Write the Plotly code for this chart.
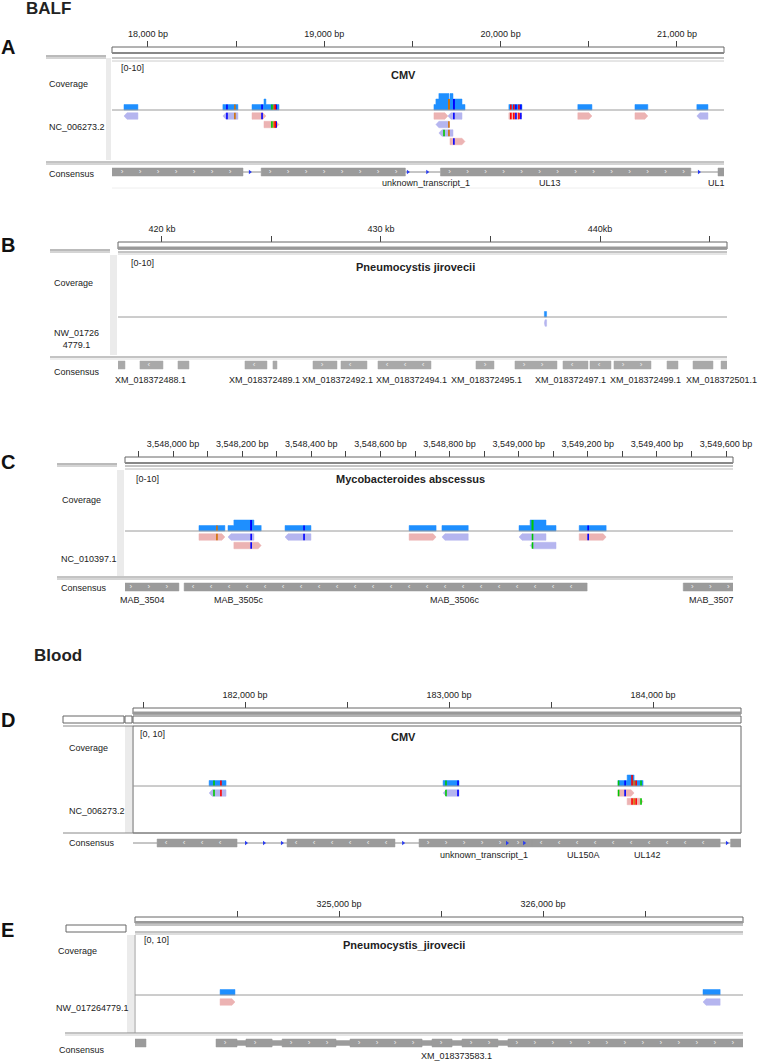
import plotly.graph_objects as go

W, H = 761, 1062
FONT = "Arial, 'Liberation Sans', sans-serif"
COV_COL = "#1e8fff"
FWD_COL = "#ecb3b3"
REV_COL = "#b5b5ef"
GENE_COL = "#9b9b9b"
INTRON_COL = "#8c8c8c"
ARROW_COL = "#2a3cf0"
BASE_COL = {"A": "#00c800", "C": "#0000ff", "G": "#d17105", "T": "#ff0000"}

# ======================= DATA =======================
# ---- Panel A : BALF, CMV (NC_006273.2) ----
A_view = [17796, 21267]
A_ticks = [18000, 18500, 19000, 19500, 20000, 20500, 21000]
A_tick_text = ["18,000 bp", "", "19,000 bp", "", "20,000 bp", "", "21,000 bp"]
A_read_start = [17864, 18425, 18590, 19622, 19701, 20047, 20438, 20762, 21113, 18658, 19633, 19650, 19713]
A_read_end = [17943, 18510, 18669, 19701, 19781, 20121, 20518, 20835, 21176, 18743, 19707, 19730, 19798]
A_read_row = [0, 0, 0, 0, 0, 0, 0, 0, 0, 1, 1, 2, 3]
A_read_strand = ["-", "-", "+", "+", "-", "+", "+", "+", "-", "+", "-", "-", "+"]
A_mm_pos = [18448, 18493, 18647, 18703, 18715, 18722, 18727, 19735, 19707, 19707, 19679, 19735,
            20058, 20075, 20087, 20104, 20115]
A_mm_row = [0, 0, 0, 1, 1, 1, 1, 0, 1, 2, 2, 3, 0, 0, 0, 0, 0]
A_mm_base = ["C", "G", "C", "A", "G", "T", "C", "C", "G", "G", "A", "C", "T", "T", "C", "T", "C"]
A_gene_start = [17700, 18642, 19659, 21233]
A_gene_end = [18539, 19460, 21079, 21400]
A_gene_strand = ["+", "+", "+", ""]
A_intron_start = [18539, 19460, 21079]
A_intron_end = [18642, 19659, 21233]
A_intron_arrow = [18578, 19474, 19584, 21125]
A_gene_name = ["unknown_transcript_1", "UL13", "UL1"]
A_gene_label_pos = [19576, 20280, 21170]
A_gene_label_anchor = ["center", "center", "left"]

# ---- Panel B : BALF, Pneumocystis jirovecii (NW_017264779.1) ----
B_view = [417993, 445798]
B_ticks = [420000, 425000, 430000, 435000, 440000, 445000]
B_tick_text = ["420 kb", "", "430 kb", "", "440kb", ""]
B_read_start = [437460]
B_read_end = [437560]
B_read_row = [0]
B_read_strand = ["-"]
B_mm_pos, B_mm_row, B_mm_base = [], [], []
B_gene_start = [417945, 418995, 420731, 423790, 425068, 426895, 428173, 429863, 434337, 436118,
                438309, 439542, 440638, 443058, 444245, 445524]
B_gene_end = [418311, 420046, 421233, 424794, 425251, 427991, 429360, 432283, 435159, 438036,
              439451, 440501, 442327, 443560, 445159, 445798]
B_gene_strand = ["", "-", "+", "-", "", "+", "-", "-", "+", "+", "-", "-", "+", "-", "", ""]
B_intron_start, B_intron_end, B_intron_arrow = [], [], []
B_gene_name = ["XM_018372488.1", "XM_018372489.1", "XM_018372492.1", "XM_018372494.1",
               "XM_018372495.1", "XM_018372497.1", "XM_018372499.1", "XM_018372501.1"]
B_gene_label_pos = [419498, 424703, 428036, 431415, 434840, 438675, 442054, 445524]
B_gene_label_anchor = ["center"] * 8

# ---- Panel C : BALF, Mycobacteroides abscessus (NC_010397.1) ----
C_view = [3547861, 3549620]
C_ticks = [3547900, 3548000, 3548100, 3548200, 3548300, 3548400, 3548500, 3548600, 3548700,
           3548800, 3548900, 3549000, 3549100, 3549200, 3549300, 3549400, 3549500, 3549600]
C_tick_text = ["", "3,548,000 bp", "", "3,548,200 bp", "", "3,548,400 bp", "", "3,548,600 bp", "",
               "3,548,800 bp", "", "3,549,000 bp", "", "3,549,200 bp", "", "3,549,400 bp", "",
               "3,549,600 bp"]
C_read_start = [3548075, 3548159, 3548324, 3548683, 3548778, 3549001, 3549175, 3548176, 3549033]
C_read_end = [3548150, 3548234, 3548399, 3548761, 3548854, 3549079, 3549253, 3548255, 3549108]
C_read_row = [0, 0, 0, 0, 0, 0, 0, 1, 1]
C_read_strand = ["+", "-", "-", "+", "-", "-", "+", "+", "-"]
C_mm_pos = [3548127, 3548226, 3548379, 3549040, 3549201, 3548226, 3549040]
C_mm_row = [0, 0, 0, 0, 0, 1, 1]
C_mm_base = ["G", "C", "C", "A", "C", "C", "A"]
C_gene_start = [3547800, 3548032, 3549476]
C_gene_end = [3548017, 3549198, 3549700]
C_gene_strand = ["+", "-", "+"]
C_intron_start, C_intron_end, C_intron_arrow = [], [], []
C_gene_name = ["MAB_3504", "MAB_3505c", "MAB_3506c", "MAB_3507"]
C_gene_label_pos = [3547913, 3548191, 3548816, 3549559]
C_gene_label_anchor = ["center"] * 4

# ---- Panel D : Blood, CMV (NC_006273.2) ----
D_view = [181451, 184431]
D_ticks = [181500, 182000, 182500, 183000, 183500, 184000]
D_tick_text = ["", "182,000 bp", "", "183,000 bp", "", "184,000 bp"]
D_read_start = [181824, 182971, 183828, 183873]
D_read_end = [181907, 183049, 183907, 183951]
D_read_row = [0, 0, 0, 1]
D_read_strand = ["-", "-", "+", "+"]
D_mm_pos = [181848, 181882, 182985, 183044, 183831, 183863, 183897, 183907, 183917, 183941]
D_mm_row = [0, 0, 0, 0, 0, 0, 1, 1, 1, 1]
D_mm_base = ["A", "T", "A", "C", "A", "C", "T", "G", "T", "A"]
D_gene_start = [181569, 182206, 182853, 183407, 184380]
D_gene_end = [181961, 182735, 183407, 184329, 184500]
D_gene_strand = ["-", "-", "+", "-", ""]
D_intron_start = [181400, 181961, 182735, 184329]
D_intron_end = [181569, 182206, 182853, 184380]
D_intron_arrow = [182005, 182093, 182181, 182775, 183284, 183368, 184362]
D_gene_name = ["unknown_transcript_1", "UL150A", "UL142"]
D_gene_label_pos = [183172, 183657, 183971]
D_gene_label_anchor = ["center"] * 3

# ---- Panel E : Blood, Pneumocystis_jirovecii (NW_017264779.1) ----
E_view = [324000, 326980]
E_ticks = [324500, 325000, 325500, 326000, 326500]
E_tick_text = ["", "325,000 bp", "", "326,000 bp", ""]
E_read_start = [324417, 326784]
E_read_end = [324490, 326868]
E_read_row = [0, 0]
E_read_strand = ["+", "-"]
E_mm_pos, E_mm_row, E_mm_base = [], [], []
E_gene_start = [323900, 324397, 324544, 324721, 325054, 325456, 325603, 325828]
E_gene_end = [324054, 324500, 324672, 324985, 325407, 325554, 325779, 327100]
E_gene_strand = ["+", "+", "+", "+", "+", "+", "+", "+"]
E_thin_start = [324500, 324672, 324985, 325407, 325554, 325779]
E_thin_end = [324544, 324721, 325054, 325456, 325603, 325828]
E_intron_start, E_intron_end, E_intron_arrow = [], [], []
E_gene_name = ["XM_018373583.1"]
E_gene_label_pos = [325574]
E_gene_label_anchor = ["center"]

DATA = {
    "A": dict(view=A_view, ticks=A_ticks, tt=A_tick_text, rs=A_read_start, re=A_read_end, rr=A_read_row,
              rst=A_read_strand, mp=A_mm_pos, mr=A_mm_row, mb=A_mm_base, gs=A_gene_start, ge=A_gene_end,
              gst=A_gene_strand, ins=A_intron_start, ine=A_intron_end, iar=A_intron_arrow,
              ts=[], te=[], gn=A_gene_name, gp=A_gene_label_pos, ga=A_gene_label_anchor),
    "B": dict(view=B_view, ticks=B_ticks, tt=B_tick_text, rs=B_read_start, re=B_read_end, rr=B_read_row,
              rst=B_read_strand, mp=B_mm_pos, mr=B_mm_row, mb=B_mm_base, gs=B_gene_start, ge=B_gene_end,
              gst=B_gene_strand, ins=B_intron_start, ine=B_intron_end, iar=B_intron_arrow,
              ts=[], te=[], gn=B_gene_name, gp=B_gene_label_pos, ga=B_gene_label_anchor),
    "C": dict(view=C_view, ticks=C_ticks, tt=C_tick_text, rs=C_read_start, re=C_read_end, rr=C_read_row,
              rst=C_read_strand, mp=C_mm_pos, mr=C_mm_row, mb=C_mm_base, gs=C_gene_start, ge=C_gene_end,
              gst=C_gene_strand, ins=C_intron_start, ine=C_intron_end, iar=C_intron_arrow,
              ts=[], te=[], gn=C_gene_name, gp=C_gene_label_pos, ga=C_gene_label_anchor),
    "D": dict(view=D_view, ticks=D_ticks, tt=D_tick_text, rs=D_read_start, re=D_read_end, rr=D_read_row,
              rst=D_read_strand, mp=D_mm_pos, mr=D_mm_row, mb=D_mm_base, gs=D_gene_start, ge=D_gene_end,
              gst=D_gene_strand, ins=D_intron_start, ine=D_intron_end, iar=D_intron_arrow,
              ts=[], te=[], gn=D_gene_name, gp=D_gene_label_pos, ga=D_gene_label_anchor),
    "E": dict(view=E_view, ticks=E_ticks, tt=E_tick_text, rs=E_read_start, re=E_read_end, rr=E_read_row,
              rst=E_read_strand, mp=E_mm_pos, mr=E_mm_row, mb=E_mm_base, gs=E_gene_start, ge=E_gene_end,
              gst=E_gene_strand, ins=E_intron_start, ine=E_intron_end, iar=E_intron_arrow,
              ts=E_thin_start, te=E_thin_end, gn=E_gene_name, gp=E_gene_label_pos, ga=E_gene_label_anchor),
}

# ======================= GEOMETRY (pixels) =======================
GEOM = {
    "A": dict(x0=112, x1=724, box_top=47, letter_y=47, section=("BALF", 25, 8),
              boxes=[(112, 724, 47, 53)],
              lines=[(112, 724, 53, "#888", 2), (46, 106, 56, "#777", 1), (46, 106, 58, "#aaa", 1),
                     (112, 724, 58, "#888", 1), (112, 724, 61, "#ccc", 1),
                     (46, 724, 162, "#888", 1), (46, 724, 164, "#aaa", 1), (112, 724, 188, "#eee", 1)],
              vlines=[], strip=(106, 111, 58, 160), range_txt=("[0-10]", 120, 68),
              cov_lab=(48, 84), title=("CMV", 404, 75), base=110, row0=116, pitch=8.5,
              chrom=("NC_006273.2", 48, 127), cons=(48, 174), gene_y=172, glab_y=183, glab_size=9),
    "B": dict(x0=118, x1=727, box_top=242, letter_y=245, section=None,
              boxes=[(118, 727, 242, 249)],
              lines=[(118, 727, 248, "#999", 3), (50, 110, 250, "#777", 1), (50, 110, 252, "#aaa", 1),
                     (118, 727, 252, "#888", 1), (118, 727, 254, "#ccc", 1),
                     (50, 727, 357, "#888", 1), (50, 727, 359, "#ddd", 1)],
              vlines=[], strip=(110, 117, 255, 355), range_txt=("[0-10]", 130, 263),
              cov_lab=(53, 283), title=("Pneumocystis jirovecii", 415, 267), base=317, row0=323, pitch=8.5,
              chrom=("NW_01726<br>4779.1", 53, 339), cons=(53, 372), gene_y=365, glab_y=380, glab_size=9),
    "C": dict(x0=125, x1=733, box_top=457, letter_y=462, section=None,
              boxes=[(125, 733, 457, 463)],
              lines=[(125, 733, 463, "#888", 2), (57, 117, 464, "#777", 1), (57, 117, 466, "#aaa", 1),
                     (125, 733, 466, "#888", 1), (125, 733, 469, "#bbb", 1),
                     (57, 733, 577, "#888", 1), (57, 733, 579, "#aaa", 1)],
              vlines=[], strip=(117, 124, 470, 576), range_txt=("[0-10]", 135, 479),
              cov_lab=(61, 500), title=("Mycobacteroides abscessus", 410, 479), base=531, row0=537, pitch=8.5,
              chrom=("NC_010397.1", 60, 559), cons=(60, 588), gene_y=587, glab_y=600, glab_size=9),
    "D": dict(x0=133, x1=741, box_top=708, letter_y=720, section=("Blood", 33, 655),
              boxes=[(133, 741, 708, 714), (133, 741, 716, 723), (63, 124, 716, 723), (125, 132, 716, 723),
                     (133, 741, 726, 833)],
              lines=[(133, 741, 713, "#999", 3), (63, 133, 726, "#888", 1), (63, 741, 833, "#888", 1)],
              vlines=[], strip=(125, 132, 726, 833), range_txt=("[0, 10]", 139, 734),
              cov_lab=(68, 748), title=("CMV", 404, 737), base=786, row0=793, pitch=8.5,
              chrom=("NC_006273.2", 68, 811), cons=(68, 843), gene_y=843, glab_y=855, glab_size=9),
    "E": dict(x0=135, x1=743, box_top=917, letter_y=930, section=None,
              boxes=[(135, 743, 917, 923), (66, 126, 925, 932)],
              lines=[(135, 743, 922, "#999", 2), (135, 743, 925, "#888", 1), (135, 743, 932, "#888", 1),
                     (135, 743, 934, "#bbb", 1), (65, 743, 1033, "#888", 1), (65, 743, 1035, "#ccc", 1)],
              vlines=[(135, 935, 1033, "#999")], strip=(127, 134, 935, 1033), range_txt=("[0, 10]", 143, 940),
              cov_lab=(57, 951), title=("Pneumocystis_jirovecii", 404, 945), base=995, row0=1002, pitch=8.5,
              chrom=("NW_017264779.1", 55, 1008), cons=(58, 1050), gene_y=1043, glab_y=1056, glab_size=9),
}

COV_PX = 5.5      # pixels per read of depth in the [0-10] coverage track
READ_H = 6.5
GENE_H = 8
THIN_H = 5
ALLELE_FRAC = 0.5  # mismatch shown in coverage when this fraction of reads carries it

fig = go.Figure()
shapes, annots, axes = [], [], {}


def txt(x, y, s, size=9, anchor="left", xref="paper", color="#222"):
    annots.append(dict(x=x / W if xref == "paper" else x, y=y, xref=xref, yref="y", text=s,
                       showarrow=False, xanchor=anchor, yanchor="middle", borderpad=0,
                       font=dict(size=size, family=FONT, color=color)))


def hline(x0, x1, y, color, width=1):
    shapes.append(dict(type="line", xref="paper", yref="y", x0=x0 / W, x1=x1 / W, y0=y, y1=y,
                       line=dict(color=color, width=width), layer="above"))


def vline(x, y0, y1, color, width=1):
    shapes.append(dict(type="line", xref="paper", yref="y", x0=x / W, x1=x / W, y0=y0, y1=y1,
                       line=dict(color=color, width=width), layer="above"))


def box(x0, x1, y0, y1, line="#666", fill="rgba(0,0,0,0)"):
    shapes.append(dict(type="rect", xref="paper", yref="y", x0=x0 / W, x1=x1 / W, y0=y0, y1=y1,
                       line=dict(color=line, width=1), fillcolor=fill, layer="above"))


def read_poly(s, e, yc, h, strand, ar):
    t, b = yc - h / 2, yc + h / 2
    ar = min(ar, (e - s) * 0.3)
    if strand == "+":
        return [s, e - ar, e, e - ar, s, s, None], [t, t, yc, b, b, t, None]
    return [s + ar, e, e, s + ar, s, s + ar, None], [t, t, b, b, yc, t, None]


def depth_at(pos, rs, re):
    return sum(1 for s, e in zip(rs, re) if s <= pos < e)


for idx, key in enumerate(["A", "B", "C", "D", "E"]):
    D, G = DATA[key], GEOM[key]
    xa = "x" if idx == 0 else f"x{idx + 1}"
    axname = "xaxis" if idx == 0 else f"xaxis{idx + 1}"
    bpp = (D["view"][1] - D["view"][0]) / (G["x1"] - G["x0"])
    axes[axname] = dict(domain=[G["x0"] / W, G["x1"] / W], range=D["view"], anchor="free",
                        position=1 - G["box_top"] / H, side="top", tickmode="array",
                        tickvals=D["ticks"], ticktext=D["tt"], ticks="outside", ticklen=6, tickwidth=1,
                        tickcolor="#444", tickfont=dict(size=9, family=FONT, color="#222"),
                        showgrid=False, zeroline=False, showline=False, fixedrange=True,
                        automargin=False)

    # ---------- static frame ----------
    sx0, sx1, sy0, sy1 = G["strip"]
    shapes.append(dict(type="rect", xref="paper", yref="y", x0=sx0 / W, x1=sx1 / W, y0=sy0, y1=sy1,
                       line=dict(width=0), fillcolor="#ebebeb", layer="below"))
    for b in G["boxes"]:
        box(*b)
    for (x0, x1, y, c, w) in G["lines"]:
        hline(x0, x1, y, c, w)
    for (x, y0, y1, c) in G["vlines"]:
        vline(x, y0, y1, c)
    hline(G["x0"], G["x1"], G["base"], "#9a9a9a", 1)

    txt(0, G["letter_y"], f"<b>{key}</b>", size=20, color="#111")
    if G["section"]:
        s, x, y = G["section"]
        txt(x, y, f"<b>{s}</b>", size=17, color="#222")
    s, x, y = G["range_txt"]
    txt(x, y, s, size=9)
    txt(G["cov_lab"][0], G["cov_lab"][1], "Coverage", size=9)
    s, x, y = G["title"]
    txt(x, y, f"<b>{s}</b>", size=11, anchor="center", color="#222")
    s, x, y = G["chrom"]
    txt(x, y, s, size=9)
    txt(G["cons"][0], G["cons"][1], "Consensus", size=9)

    # ---------- coverage (computed from the reads) ----------
    rs, re = D["rs"], D["re"]
    pts = sorted(set(rs + re))
    segs = []
    for a, b in zip(pts[:-1], pts[1:]):
        segs.append((a, b, sum(1 for s0, e0 in zip(rs, re) if s0 <= a and e0 >= b)))
    runs, cur = [], []
    for sg in segs:
        if sg[2] > 0:
            cur.append(sg)
        elif cur:
            runs.append(cur)
            cur = []
    if cur:
        runs.append(cur)
    cx, cy = [], []
    base = G["base"]
    for run in runs:
        cx.append(run[0][0]); cy.append(base)
        for a, b, d in run:
            cx += [a, b]; cy += [base - d * COV_PX] * 2
        cx += [run[-1][1], run[0][0], None]; cy += [base, base, None]
    fig.add_trace(go.Scatter(x=cx, y=cy, xaxis=xa, yaxis="y", mode="lines", fill="toself",
                             fillcolor=COV_COL, line=dict(width=0.5, color=COV_COL), hoverinfo="skip"))

    # ---------- reads ----------
    ar = 3 * bpp
    for strand, col in (("+", FWD_COL), ("-", REV_COL)):
        px_, py_ = [], []
        for s0, e0, r, st in zip(rs, re, D["rr"], D["rst"]):
            if st != strand:
                continue
            xx, yy = read_poly(s0, e0, G["row0"] + r * G["pitch"], READ_H, st, ar)
            px_ += xx; py_ += yy
        if px_:
            fig.add_trace(go.Scatter(x=px_, y=py_, xaxis=xa, yaxis="y", mode="lines", fill="toself",
                                     fillcolor=col, line=dict(width=0.5, color=col), hoverinfo="skip"))

    # ---------- mismatches ----------
    for bname, col in BASE_COL.items():
        mx, my = [], []
        for p, r, bb in zip(D["mp"], D["mr"], D["mb"]):
            if bb != bname:
                continue
            yc = G["row0"] + r * G["pitch"]
            mx += [p, p, None]; my += [yc - READ_H / 2, yc + READ_H / 2, None]
            dep = depth_at(p, rs, re)
            carriers = sum(1 for p2, b2 in zip(D["mp"], D["mb"]) if p2 == p and b2 == bb)
            if dep and carriers / dep >= ALLELE_FRAC:
                mx += [p, p, None]; my += [base, base - dep * COV_PX, None]
        if mx:
            fig.add_trace(go.Scatter(x=mx, y=my, xaxis=xa, yaxis="y", mode="lines",
                                     line=dict(width=1.6, color=col), hoverinfo="skip"))

    # ---------- consensus / gene track ----------
    gy = G["gene_y"]
    ix, iy = [], []
    for a, b in zip(D["ins"], D["ine"]):
        ix += [a, b, None]; iy += [gy, gy, None]
    if ix:
        fig.add_trace(go.Scatter(x=ix, y=iy, xaxis=xa, yaxis="y", mode="lines",
                                 line=dict(width=1, color=INTRON_COL), hoverinfo="skip"))
    gx, gyy = [], []
    for a, b in zip(D["gs"], D["ge"]):
        gx += [a, b, b, a, a, None]; gyy += [gy - GENE_H / 2] * 2 + [gy + GENE_H / 2] * 2 + [gy - GENE_H / 2, None]
    for a, b in zip(D["ts"], D["te"]):
        gx += [a, b, b, a, a, None]; gyy += [gy - THIN_H / 2] * 2 + [gy + THIN_H / 2] * 2 + [gy - THIN_H / 2, None]
    gcol = "#a9a9a9" if key == "B" else GENE_COL
    fig.add_trace(go.Scatter(x=gx, y=gyy, xaxis=xa, yaxis="y", mode="lines", fill="toself",
                             fillcolor=gcol, line=dict(width=0.5, color=gcol), hoverinfo="skip"))
    # strand chevrons
    step = 18 * bpp
    chx, cht = [], []
    for a, b, st in zip(D["gs"], D["ge"], D["gst"]):
        if not st:
            continue
        p = a + step / 2
        while p < b - step / 4:
            chx.append(p); cht.append("›" if st == "+" else "‹")
            p += step
    if chx:
        fig.add_trace(go.Scatter(x=chx, y=[gy] * len(chx), xaxis=xa, yaxis="y", mode="text", text=cht,
                                 textfont=dict(size=8, color="#eeeeee", family=FONT),
                                 textposition="middle center", hoverinfo="skip"))
    if D["iar"]:
        fig.add_trace(go.Scatter(x=D["iar"], y=[gy] * len(D["iar"]), xaxis=xa, yaxis="y", mode="markers",
                                 marker=dict(symbol="triangle-right", size=4, color=ARROW_COL),
                                 hoverinfo="skip"))
    for n, p, anc in zip(D["gn"], D["gp"], D["ga"]):
        txt(p, G["glab_y"], n, size=G["glab_size"], anchor=anc, xref=xa)

fig.update_layout(template="none", width=W, height=H, margin=dict(l=0, r=0, t=0, b=0, pad=0),
                  paper_bgcolor="white", plot_bgcolor="rgba(0,0,0,0)", showlegend=False,
                  shapes=shapes, annotations=annots,
                  yaxis=dict(range=[H, 0], domain=[0, 1], visible=False, fixedrange=True, anchor="x",
                             automargin=False),
                  **axes)
fig.write_html("out.html", config={"displayModeBar": False},
               post_script="document.body.style.margin='0';")
